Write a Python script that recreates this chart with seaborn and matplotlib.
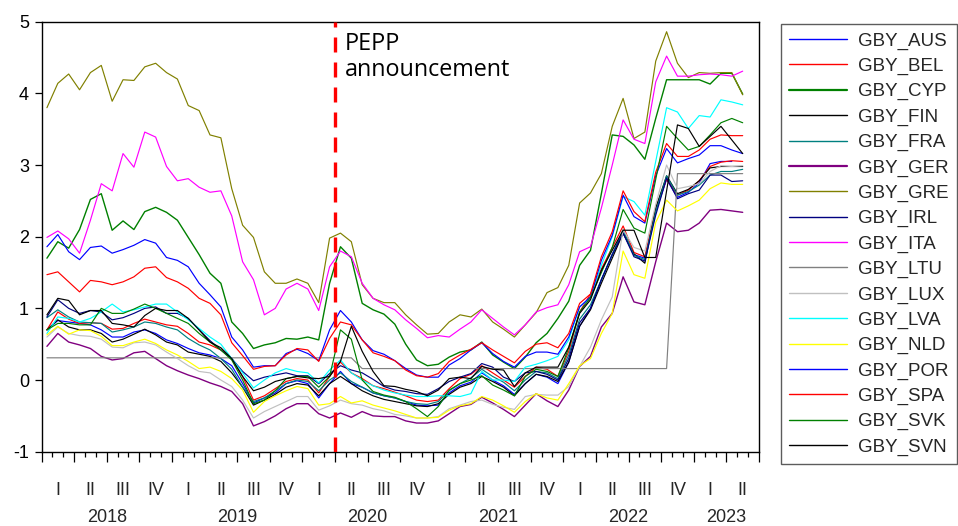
import numpy as np
import pandas as pd
import matplotlib
matplotlib.use("Agg")
import matplotlib.pyplot as plt
from matplotlib.lines import Line2D
import seaborn as sns

# Monthly 10-year government bond yields (%), Jan 2018 - May 2023
months = pd.period_range("2018-01", "2023-05", freq="M")

gby_aus = [0.70, 0.83, 0.81, 0.79, 0.77, 0.70, 0.60, 0.60, 0.67, 0.70,
           0.65, 0.56, 0.51, 0.44, 0.38, 0.35, 0.30, 0.20, -0.05, -0.32,
           -0.25, -0.18, -0.05, -0.01, -0.05, -0.25, -0.05, 0.12, -0.05, -0.10,
           -0.18, -0.22, -0.25, -0.30, -0.35, -0.36, -0.35, -0.18, -0.08, -0.03,
           0.10, 0.00, -0.08, -0.20, -0.05, 0.08, 0.04, -0.05, 0.25, 0.75,
           1.00, 1.40, 1.75, 2.05, 1.75, 1.70, 2.35, 2.80, 2.55, 2.62,
           2.75, 3.02, 3.05, 3.05, np.nan]
gby_bel = [0.70, 0.95, 0.85, 0.79, 0.80, 0.79, 0.71, 0.72, 0.79, 0.85,
           0.81, 0.77, 0.75, 0.65, 0.53, 0.49, 0.42, 0.30, 0.05, -0.28,
           -0.22, -0.12, -0.02, 0.02, 0.00, -0.18, 0.05, 0.25, 0.10, 0.02,
           -0.08, -0.12, -0.17, -0.22, -0.28, -0.30, -0.28, -0.12, 0.02, 0.08,
           0.20, 0.10, 0.00, -0.10, 0.05, 0.18, 0.15, 0.05, 0.40, 0.95,
           1.20, 1.55, 1.85, 2.15, 1.78, 1.72, 2.40, 2.80, 2.58, 2.65,
           2.78, 2.98, 3.04, 3.06, 3.05]
gby_cyp = [1.70, 1.93, 1.84, 2.10, 2.52, 2.60, 2.09, 2.22, 2.10, 2.35,
           2.41, 2.34, 2.23, 1.99, 1.75, 1.49, 1.35, 0.81, 0.65, 0.44,
           0.49, 0.52, 0.58, 0.57, 0.60, 0.56, 1.35, 1.86, 1.70, 1.07,
           0.98, 0.92, 0.78, 0.50, 0.28, 0.20, 0.22, 0.32, 0.39, 0.42,
           0.53, 0.35, 0.25, 0.16, 0.32, 0.52, 0.65, 0.86, 1.10, 1.60,
           1.81, 2.60, 3.42, 3.40, 3.28, 3.08, 3.65, 4.19, 4.19, 4.19,
           4.19, 4.13, 4.28, 4.28, 3.99]
gby_fin = [0.70, 0.84, 0.74, 0.70, 0.70, 0.65, 0.53, 0.57, 0.64, 0.71,
           0.63, 0.53, 0.49, 0.39, 0.36, 0.33, 0.26, 0.10, -0.10, -0.35,
           -0.28, -0.20, -0.10, -0.05, -0.07, -0.22, -0.05, 0.05, -0.05, -0.15,
           -0.22, -0.27, -0.30, -0.33, -0.36, -0.37, -0.33, -0.20, -0.10, -0.05,
           0.05, -0.02, -0.10, -0.22, -0.05, 0.08, 0.05, -0.02, 0.25, 0.75,
           0.98, 1.35, 1.70, 2.05, 1.76, 1.63, 2.40, 2.85, 2.60, 2.66,
           2.78, 2.96, 2.98, 2.98, 2.98]
gby_fra = [0.87, 0.98, 0.88, 0.81, 0.80, 0.79, 0.67, 0.70, 0.74, 0.81,
           0.79, 0.74, 0.70, 0.58, 0.49, 0.42, 0.30, 0.15, -0.10, -0.30,
           -0.25, -0.15, -0.05, 0.00, -0.02, -0.15, 0.00, 0.10, -0.02, -0.10,
           -0.18, -0.22, -0.25, -0.30, -0.33, -0.34, -0.30, -0.15, -0.05, 0.03,
           0.15, 0.05, -0.03, -0.15, 0.00, 0.12, 0.10, 0.02, 0.35, 0.85,
           1.05, 1.40, 1.75, 2.10, 1.74, 1.68, 2.35, 2.85, 2.58, 2.63,
           2.72, 2.86, 2.91, 2.91, 2.94]
gby_ger = [0.47, 0.65, 0.53, 0.49, 0.44, 0.33, 0.28, 0.30, 0.38, 0.40,
           0.30, 0.20, 0.13, 0.07, 0.02, -0.04, -0.09, -0.16, -0.33, -0.64,
           -0.58, -0.50, -0.40, -0.33, -0.33, -0.47, -0.53, -0.46, -0.52, -0.44,
           -0.50, -0.51, -0.51, -0.57, -0.60, -0.60, -0.57, -0.47, -0.37, -0.34,
           -0.24, -0.32, -0.41, -0.51, -0.35, -0.19, -0.29, -0.37, -0.14, 0.19,
           0.33, 0.74, 0.93, 1.44, 1.09, 1.05, 1.65, 2.19, 2.07, 2.09,
           2.19, 2.37, 2.38, 2.36, 2.34]
gby_gre = [3.80, 4.14, 4.27, 4.05, 4.29, 4.39, 3.89, 4.19, 4.18, 4.37,
           4.42, 4.29, 4.20, 3.83, 3.76, 3.42, 3.38, 2.67, 2.16, 1.99,
           1.51, 1.35, 1.35, 1.41, 1.35, 1.08, 1.98, 2.05, 1.93, 1.33,
           1.14, 1.08, 1.08, 0.91, 0.77, 0.64, 0.65, 0.81, 0.91, 0.88,
           0.99, 0.81, 0.71, 0.60, 0.77, 0.94, 1.22, 1.29, 1.60, 2.47,
           2.61, 2.88, 3.54, 3.93, 3.37, 3.46, 4.45, 4.86, 4.42, 4.22,
           4.29, 4.28, 4.29, 4.29, 3.98]
gby_irl = [0.88, 1.12, 1.00, 0.93, 0.97, 0.95, 0.84, 0.87, 0.93, 1.00,
           1.02, 0.93, 0.93, 0.86, 0.70, 0.55, 0.42, 0.30, 0.12, -0.01,
           0.04, 0.07, 0.10, 0.06, 0.06, -0.05, 0.09, 0.20, 0.14, 0.10,
           0.01, -0.09, -0.14, -0.16, -0.19, -0.20, -0.12, -0.02, 0.04, 0.09,
           0.23, 0.18, 0.04, -0.02, 0.10, 0.12, 0.08, 0.00, 0.30, 0.80,
           1.00, 1.40, 1.75, 2.05, 1.72, 1.66, 2.30, 2.82, 2.53, 2.60,
           2.65, 2.86, 2.86, 2.77, 2.78]
gby_ita = [1.99, 2.08, 1.97, 1.77, 2.23, 2.74, 2.64, 3.16, 2.97, 3.46,
           3.39, 2.98, 2.78, 2.81, 2.69, 2.62, 2.64, 2.29, 1.65, 1.40,
           0.91, 1.00, 1.27, 1.35, 1.27, 0.97, 1.58, 1.80, 1.72, 1.35,
           1.14, 1.05, 0.98, 0.84, 0.72, 0.59, 0.62, 0.60, 0.71, 0.81,
           0.98, 0.86, 0.74, 0.63, 0.77, 0.95, 1.01, 1.05, 1.33, 1.79,
           1.86, 2.40, 3.00, 3.63, 3.36, 3.30, 4.16, 4.52, 4.24, 4.24,
           4.26, 4.27, 4.26, 4.24, 4.31]
gby_ltu = [0.31] * 29 + [0.16] * 29 + [2.88] * 7
gby_lux = [0.60, 0.74, 0.65, 0.62, 0.61, 0.57, 0.46, 0.45, 0.52, 0.53,
           0.49, 0.39, 0.30, 0.20, 0.12, 0.10, 0.00, -0.09, -0.28, -0.53,
           -0.44, -0.37, -0.30, -0.23, -0.23, -0.42, -0.36, -0.28, -0.33, -0.35,
           -0.40, -0.43, -0.48, -0.50, -0.53, -0.53, -0.51, -0.40, -0.35, -0.30,
           -0.28, -0.34, -0.38, -0.41, -0.23, -0.20, -0.21, -0.21, -0.09, 0.19,
           0.46, 0.84, 1.16, 2.10, 1.85, 1.80, 2.45, 3.00, 2.67, 2.70,
           2.74, 2.91, 2.99, 2.98, 2.99]
gby_lva = [0.65, 0.88, 0.86, 0.81, 0.86, 0.95, 1.06, 0.95, 0.98, 1.02,
           1.06, 1.06, 0.95, 0.84, 0.72, 0.60, 0.50, 0.30, 0.10, -0.11,
           0.00, 0.10, 0.16, 0.12, 0.10, -0.04, 0.14, 0.28, 0.10, 0.00,
           -0.08, -0.14, -0.18, -0.21, -0.23, -0.23, -0.22, -0.22, -0.23, -0.19,
           0.12, 0.00, 0.00, -0.02, 0.18, 0.22, 0.27, 0.33, 0.56, 1.02,
           1.15, 1.60, 2.00, 2.56, 2.49, 2.30, 3.05, 3.80, 3.74, 3.51,
           3.69, 3.67, 3.91, 3.88, 3.84]
gby_nld = [0.63, 0.75, 0.64, 0.70, 0.69, 0.61, 0.48, 0.48, 0.53, 0.57,
           0.51, 0.42, 0.35, 0.26, 0.16, 0.18, 0.12, 0.02, -0.14, -0.45,
           -0.30, -0.22, -0.15, -0.09, -0.12, -0.35, -0.33, -0.23, -0.32, -0.29,
           -0.35, -0.39, -0.43, -0.48, -0.53, -0.53, -0.52, -0.42, -0.36, -0.33,
           -0.23, -0.28, -0.36, -0.45, -0.30, -0.19, -0.25, -0.28, -0.05, 0.20,
           0.30, 0.65, 0.93, 1.80, 1.47, 1.42, 2.20, 2.51, 2.36, 2.43,
           2.51, 2.67, 2.75, 2.73, 2.73]
gby_por = [1.86, 2.03, 1.79, 1.68, 1.85, 1.87, 1.77, 1.82, 1.88, 1.96,
           1.91, 1.71, 1.67, 1.58, 1.35, 1.19, 1.02, 0.60, 0.42, 0.18,
           0.20, 0.20, 0.37, 0.43, 0.37, 0.27, 0.70, 0.97, 0.81, 0.56,
           0.41, 0.36, 0.27, 0.16, 0.07, 0.04, 0.04, 0.21, 0.30, 0.42,
           0.52, 0.37, 0.26, 0.18, 0.33, 0.39, 0.39, 0.36, 0.60, 1.02,
           1.16, 1.67, 2.02, 2.58, 2.28, 2.19, 2.85, 3.23, 3.03, 3.09,
           3.14, 3.27, 3.27, 3.21, 3.16]
gby_spa = [1.47, 1.51, 1.37, 1.23, 1.39, 1.37, 1.33, 1.37, 1.44, 1.56,
           1.58, 1.43, 1.37, 1.28, 1.14, 1.07, 0.91, 0.52, 0.34, 0.15,
           0.19, 0.20, 0.35, 0.44, 0.42, 0.26, 0.58, 0.81, 0.77, 0.56,
           0.38, 0.33, 0.27, 0.14, 0.06, 0.04, 0.09, 0.26, 0.35, 0.43,
           0.52, 0.42, 0.33, 0.24, 0.40, 0.50, 0.52, 0.45, 0.65, 1.07,
           1.20, 1.72, 2.07, 2.64, 2.35, 2.21, 2.90, 3.30, 3.12, 3.12,
           3.21, 3.36, 3.42, 3.41, 3.41]
gby_svk = [0.70, 0.79, 0.79, 0.77, 0.77, 1.00, 0.93, 0.93, 0.99, 1.06,
           1.00, 0.93, 0.86, 0.79, 0.65, 0.53, 0.42, 0.28, 0.00, -0.33,
           -0.28, -0.15, 0.02, 0.05, 0.05, -0.10, 0.05, 0.70, 0.57, 0.00,
           -0.16, -0.21, -0.24, -0.30, -0.40, -0.51, -0.37, -0.14, -0.05, 0.00,
           0.06, -0.07, -0.14, -0.22, 0.05, 0.15, 0.12, 0.05, 0.45, 0.95,
           1.15, 1.50, 1.85, 2.38, 2.12, 2.05, 2.80, 3.54, 3.37, 3.21,
           3.26, 3.42, 3.59, 3.65, 3.59]
gby_svn = [0.91, 1.14, 1.11, 0.91, 0.97, 0.97, 0.79, 0.77, 0.74, 0.90,
           1.00, 0.97, 0.97, 0.86, 0.70, 0.53, 0.45, 0.30, 0.05, -0.15,
           -0.10, -0.02, 0.02, 0.05, 0.03, 0.02, 0.05, 0.26, 0.75, 0.40,
           0.12, -0.08, -0.09, -0.13, -0.16, -0.22, -0.14, 0.02, 0.04, 0.02,
           0.19, 0.15, 0.14, -0.09, 0.10, 0.18, 0.18, 0.18, 0.46, 0.93,
           1.12, 1.53, 1.81, 2.09, 2.09, 1.71, 1.71, 2.64, 3.56, 3.51,
           3.26, 3.40, 3.54, 3.35, 3.16]

series_names = ["GBY_AUS", "GBY_BEL", "GBY_CYP", "GBY_FIN", "GBY_FRA", "GBY_GER",
                "GBY_GRE", "GBY_IRL", "GBY_ITA", "GBY_LTU", "GBY_LUX", "GBY_LVA",
                "GBY_NLD", "GBY_POR", "GBY_SPA", "GBY_SVK", "GBY_SVN"]
series_values = [gby_aus, gby_bel, gby_cyp, gby_fin, gby_fra, gby_ger, gby_gre,
                 gby_irl, gby_ita, gby_ltu, gby_lux, gby_lva, gby_nld, gby_por,
                 gby_spa, gby_svk, gby_svn]
series_colors = ["#0000FF", "#FF0000", "#008000", "#000000", "#008080", "#800080",
                 "#808000", "#000080", "#FF00FF", "#808080", "#C0C0C0", "#00FFFF",
                 "#FFFF00", "#0000FF", "#FF0000", "#008000", "#000000"]
line_widths = [0.85, 0.85, 1.0, 0.85, 0.85, 1.0, 0.85, 0.85, 0.85, 0.85, 0.85,
               0.85, 0.85, 0.85, 0.85, 0.85, 0.85]
key_widths = [1.0, 1.0, 1.6, 1.0, 1.0, 1.6, 1.0, 1.0, 1.0, 1.0, 1.0, 1.0,
              1.0, 1.0, 1.0, 1.0, 1.0]

quarter_labels = ["I", "II", "III", "IV"]
year_labels = ["2018", "2019", "2020", "2021", "2022", "2023"]
pepp_month = "2020-04"
pepp_label = "PEPP\nannouncement"

t = np.arange(len(months))
wide = pd.DataFrame({n: v for n, v in zip(series_names, series_values)})
wide["t"] = t
long = wide.melt(id_vars="t", var_name="series", value_name="yield").dropna()

sns.set_theme(style="white")
plt.rcParams["font.family"] = ["Liberation Sans", "DejaVu Sans"]

W, H = 958, 526
fig = plt.figure(figsize=(W / 100, H / 100), dpi=100)
ax_l, ax_r, ax_t, ax_b = 41.5, 759.0, 21.7, 451.7
ax = fig.add_axes([ax_l / W, 1 - ax_b / H, (ax_r - ax_l) / W, (ax_b - ax_t) / H])

for name, col, lw in zip(series_names, series_colors, line_widths):
    sub = long[long["series"] == name]
    sns.lineplot(data=sub, x="t", y="yield", color=col, linewidth=lw,
                 estimator=None, sort=False, ax=ax, legend=False)

n_slots = len(months) + 1  # axis runs through June 2023
ax.set_xlim(-0.5, n_slots - 0.5)
ax.set_ylim(-1, 5)
ax.set_xlabel("")
ax.set_ylabel("")

# PEPP vertical marker at the start of April 2020
pepp_x = months.get_loc(pd.Period(pepp_month, freq="M")) - 0.5
ax.axvline(pepp_x, color="#FF0000", linewidth=2.4, linestyle=(0, (4.5, 3)), zorder=5)
ax.text(pepp_x + 0.9, 4.86, pepp_label, ha="left", va="top",
        fontsize=16.8, family=["Open Sans", "DejaVu Sans"], color="black",
        linespacing=1.15)

# Axis frame and ticks
for sp in ax.spines.values():
    sp.set_color("black")
    sp.set_linewidth(1.0)
ax.set_yticks(np.arange(-1, 6, 1))
ax.set_yticklabels([str(v) for v in range(-1, 6)], fontsize=13)
ax.tick_params(axis="y", which="major", direction="out", length=5, width=0.9,
               pad=4, left=True, colors="black")
ax.set_xticks(np.arange(-0.5, n_slots, 3))
ax.set_xticks(np.arange(-0.5, n_slots, 1), minor=True)
ax.set_xticklabels([])
ax.tick_params(axis="x", which="major", direction="out", length=7, width=0.9,
               bottom=True, colors="black")
ax.tick_params(axis="x", which="minor", direction="out", length=3.5, width=0.9,
               bottom=True, colors="black")

# Quarter and year labels beneath the axis
tr = ax.get_xaxis_transform()
for q in range(n_slots // 3):
    ax.text(q * 3 + 1, -0.09, quarter_labels[q % 4], transform=tr,
            ha="center", va="center", fontsize=13)
for k, yl in enumerate(year_labels):
    start = k * 12 - 0.5
    end = min(start + 12, n_slots - 0.5)
    ax.text((start + end) / 2, -0.153, yl, transform=tr,
            ha="center", va="center", fontsize=13)

# Legend box on the right
handles = [Line2D([0], [0], color=c, linewidth=lw)
           for c, lw in zip(series_colors, key_widths)]
leg = fig.legend(handles, series_names, loc="upper left",
                 bbox_to_anchor=(780.7 / W, 1 - 24 / H), frameon=True,
                 fontsize=13.5, handlelength=3.1, handletextpad=0.55,
                 labelspacing=0.43, borderpad=0.45, borderaxespad=0,
                 fancybox=False)
leg.get_frame().set_edgecolor("#333333")
leg.get_frame().set_linewidth(1.0)

fig.savefig("out.png", dpi=100)
